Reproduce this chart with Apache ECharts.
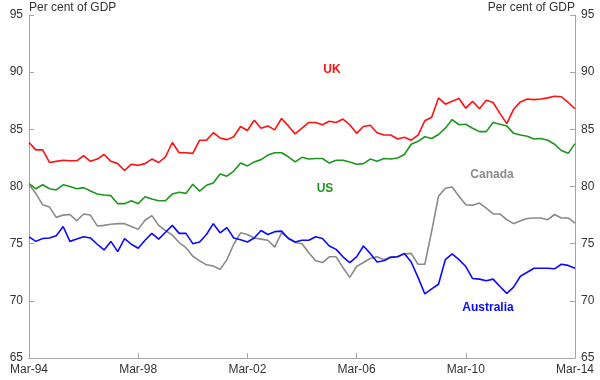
<!DOCTYPE html>
<html>
<head>
<meta charset="utf-8">
<script src="https://cdn.jsdelivr.net/npm/echarts@6/dist/echarts.min.js"></script>
<style>html,body{margin:0;padding:0;background:#fff}#c{width:600px;height:380px}</style>
</head>
<body>
<div id="c"></div>
<script>
// Quarterly categories Mar-94 .. Mar-14
const months = ["Mar","Jun","Sep","Dec"];
const categories = [];
for (let y = 1994; y <= 2014; y++) {
  for (let m = 0; m < 4; m++) {
    if (y === 2014 && m > 0) break;
    categories.push(months[m] + "-" + String(y % 100).padStart(2, "0"));
  }
}
const tickLabels = ["Mar-94","Mar-98","Mar-02","Mar-06","Mar-10","Mar-14"];
const yTicks = [65,70,75,80,85,90,95];
const axisTitle = "Per cent of GDP";

const uk = [83.85,83.2,83.2,82.1,82.2,82.3,82.25,82.25,82.7,82.2,82.4,82.8,82.2,82.0,81.4,81.95,81.85,82.0,82.4,82.1,
82.6,83.85,82.95,82.95,82.9,84.05,84.05,84.7,84.25,84.1,84.35,85.25,84.9,85.8,85.1,85.3,84.95,85.95,85.3,84.6,
85.1,85.6,85.6,85.4,85.7,85.6,85.9,85.4,84.65,85.25,85.35,84.7,84.5,84.5,84.15,84.3,84.05,84.5,85.75,86.05,
87.75,87.2,87.45,87.7,86.85,87.45,86.8,87.55,87.35,86.4,85.5,86.75,87.4,87.65,87.6,87.65,87.75,87.9,87.85,87.35,86.8];
const us = [80.26,79.8,80.15,79.8,79.7,80.15,80.0,79.8,79.9,79.6,79.35,79.25,79.2,78.5,78.5,78.75,78.5,79.1,78.9,78.75,
78.75,79.35,79.5,79.4,80.2,79.6,80.1,80.3,81.1,80.9,81.35,82.05,81.8,82.15,82.35,82.75,82.95,82.95,82.6,82.15,
82.55,82.4,82.45,82.45,82.05,82.3,82.3,82.15,81.95,82.0,82.4,82.2,82.45,82.4,82.5,82.8,83.7,83.95,84.35,84.2,
84.55,85.1,85.85,85.4,85.45,85.1,84.8,84.8,85.6,85.45,85.3,84.65,84.5,84.4,84.15,84.2,84.05,83.7,83.15,82.9,83.75];
const canada = [80.15,79.4,78.4,78.2,77.3,77.5,77.55,77.0,77.6,77.5,76.55,76.6,76.7,76.75,76.75,76.5,76.25,77.05,77.45,76.6,
76.15,75.75,75.1,74.65,73.9,73.5,73.15,73.05,72.75,73.6,74.95,75.95,75.8,75.5,75.4,75.3,74.7,75.95,75.5,75.1,
75.0,74.2,73.5,73.35,73.85,73.85,72.9,72.05,73.0,73.35,73.7,73.85,73.6,73.85,73.85,74.1,74.15,73.2,73.2,76.1,
79.15,79.85,79.95,79.15,78.4,78.35,78.55,78.1,77.6,77.6,77.1,76.75,77.0,77.2,77.25,77.25,77.1,77.55,77.25,77.25,76.8];
const australia = [75.6,75.2,75.45,75.5,75.7,76.5,75.2,75.4,75.6,75.5,74.95,74.45,75.2,74.3,75.45,74.95,74.6,75.3,75.9,75.4,
76.0,76.6,75.9,75.9,75.0,75.15,75.8,76.75,75.95,76.4,75.5,75.35,75.15,75.5,76.15,75.8,76.05,76.1,75.45,75.15,
75.3,75.3,75.6,75.45,74.8,74.5,73.85,73.35,73.85,74.8,74.15,73.4,73.5,73.8,73.85,74.15,73.4,72.05,70.6,71.05,
71.45,73.6,74.1,73.6,73.0,71.95,71.9,71.75,71.9,71.25,70.65,71.2,72.15,72.5,72.85,72.85,72.85,72.8,73.2,73.1,72.85];

const FONT = "Liberation Sans, Arial, sans-serif";
const AXC = "#a6a6a6";
const TXT = "#333";
const chart = echarts.init(document.getElementById("c"), null, {renderer: "canvas"});

function yAxis(pos) {
  return {
    type: "value", position: pos, min: yTicks[0], max: yTicks[yTicks.length - 1], interval: 5,
    axisLine: {show: true, lineStyle: {color: AXC, width: 1}},
    axisTick: {show: true, inside: true, length: 5, lineStyle: {color: AXC}},
    axisLabel: {color: TXT, fontSize: 12, fontFamily: FONT, margin: 6},
    splitLine: {show: false}
  };
}
function line(name, data, color) {
  return {name, type: "line", data, symbol: "none", xAxisIndex: 0, yAxisIndex: 0,
    lineStyle: {color, width: 1.6}, itemStyle: {color}, animation: false};
}

chart.setOption({
  animation: false,
  grid: {left: 29, right: 25, top: 15, bottom: 22, containLabel: false},
  xAxis: {
    type: "category", data: categories, boundaryGap: false,
    axisLine: {show: true, lineStyle: {color: AXC}},
    axisTick: {show: true, inside: true, length: 5, lineStyle: {color: AXC},
      interval: (i, v) => tickLabels.includes(v)},
    axisLabel: {color: TXT, fontSize: 12, fontFamily: FONT, margin: 6,
      interval: (i, v) => tickLabels.includes(v)},
    splitLine: {show: false}
  },
  yAxis: [yAxis("left"), yAxis("right")],
  series: [
    line("UK", uk, "#ff1010"),
    line("US", us, "#1c961c"),
    line("Canada", canada, "#8a8a8a"),
    line("Australia", australia, "#0a0aff")
  ],
  graphic: [
    {type: "text", left: 29, top: 2, style: {text: axisTitle, fill: TXT, font: "12px " + FONT}},
    {type: "text", right: 25, top: 2, style: {text: axisTitle, fill: TXT, font: "12px " + FONT}},
    {type: "text", x: 332, y: 70, style: {text: "UK", fill: "#ff1010", font: "bold 12px " + FONT, align: "center", verticalAlign: "middle"}},
    {type: "text", x: 325, y: 189, style: {text: "US", fill: "#1c961c", font: "bold 12px " + FONT, align: "center", verticalAlign: "middle"}},
    {type: "text", x: 492, y: 175, style: {text: "Canada", fill: "#8a8a8a", font: "bold 12px " + FONT, align: "center", verticalAlign: "middle"}},
    {type: "text", x: 488, y: 308, style: {text: "Australia", fill: "#0a0aff", font: "bold 12px " + FONT, align: "center", verticalAlign: "middle"}}
  ]
});
</script>
</body>
</html>
